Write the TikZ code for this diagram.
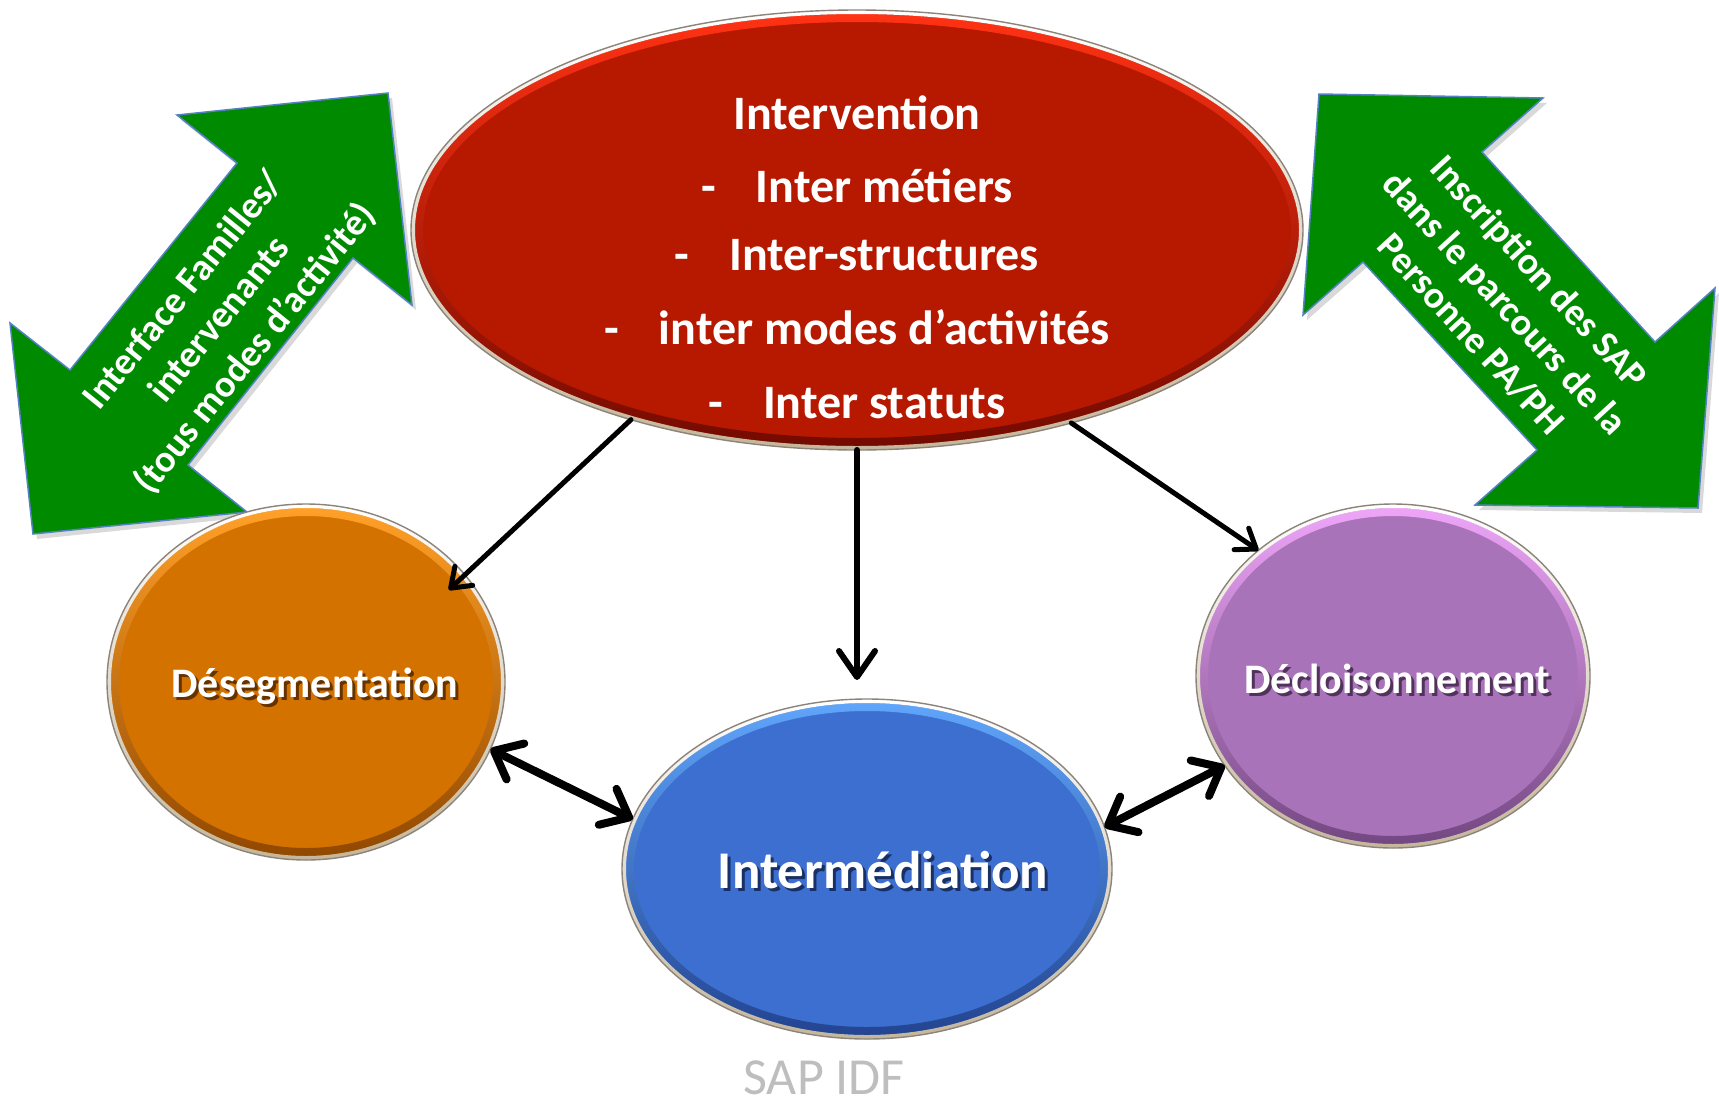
\documentclass[tikz,border=0pt]{standalone}
\usepackage{fontspec}
\setmainfont{Carlito}
\usetikzlibrary{shapes.geometric,arrows.meta}
\definecolor{arrowgreen}{RGB}{0,138,0}
\definecolor{arrowedge}{RGB}{84,130,196}
\definecolor{redmain}{RGB}{182,25,0}
\definecolor{redlight}{RGB}{255,50,20}
\definecolor{reddark}{RGB}{115,10,0}
\definecolor{orgmain}{RGB}{212,114,0}
\definecolor{orglight}{RGB}{255,160,40}
\definecolor{orgdark}{RGB}{145,72,0}
\definecolor{bluemain}{RGB}{60,111,207}
\definecolor{bluelight}{RGB}{95,165,250}
\definecolor{bluedark}{RGB}{35,68,145}
\definecolor{purmain}{RGB}{169,115,186}
\definecolor{purlight}{RGB}{238,165,248}
\definecolor{purdark}{RGB}{115,72,130}
\definecolor{ringbeige}{RGB}{196,182,155}
\definecolor{ringgray}{RGB}{140,132,122}
\definecolor{sapgray}{RGB}{190,190,190}
\newcommand\bubble[8]{%
  \pgfmathsetmacro\bubW{2*#4}\pgfmathsetmacro\bubH{2*#5}%
  \pgfmathsetmacro\rxb{#4-4}\pgfmathsetmacro\ryb{#5-4}%
  \pgfmathsetmacro\rxc{#4-12}\pgfmathsetmacro\ryc{#5-12}%
  \node[bubblebox, fill=#6, minimum width=\bubW pt, minimum height=\bubH pt] (#1) at (#2,#3) {};
  \shade[even odd rule, top color=#7, middle color=#6, bottom color=#8]
    (#2,#3) ellipse [x radius=\rxb, y radius=\ryb] (#2,#3) ellipse [x radius=\rxc, y radius=\ryc];
  \shade[even odd rule, top color=white, bottom color=ringbeige]
    (#2,#3) ellipse [x radius=#4, y radius=#5] (#2,#3) ellipse [x radius=\rxb, y radius=\ryb];
  \draw[ringgray, line width=1.4pt] (#2,#3) ellipse [x radius=#4, y radius=#5];
}
\newcommand\shadowed[2]{\makebox[0pt][l]{\kern3pt\raisebox{-3pt}{\textcolor{#1}{#2}}}#2}
\begin{document}
\begin{tikzpicture}[x=1pt,y=-1pt,
  bubblebox/.style={ellipse, inner sep=0pt, outer sep=0pt, draw=none},
  greenarrow/.style={fill=arrowgreen, draw=arrowedge, line width=1.5pt, line join=miter},
  greenshadow/.style={fill=black, opacity=0.15},
  greentext/.style={white, font=\fontsize{38}{46}\selectfont\bfseries, align=center, inner sep=0pt},
  redline/.style={anchor=base, white, font=\fontsize{48}{58}\selectfont\bfseries, inner sep=0pt},
  bubtext/.style={anchor=base, white, inner sep=0pt},
  conn/.style={line width=5pt, line cap=round, -{Straight Barb[round,length=18pt,width=26pt]}},
  connbig/.style={line width=6pt, line cap=round, -{Straight Barb[round,length=26pt,width=36pt]}},
  dconn/.style={line width=8pt, {Straight Barb[round,length=24pt,width=40pt]}-{Straight Barb[round,length=24pt,width=40pt]}}
]
\useasboundingbox (0,0) rectangle (1719,1101);
\fill[white] (0,0) rectangle (1719,1101);

% green double arrows
\fill[greenshadow, shift={(4,5)}] (388,93) -- (177,115) -- (237,163) -- (70,370) -- (10,323) -- (33,534) -- (247,512) -- (188,465) -- (353,258) -- (412,305) -- cycle;
\draw[greenarrow] (388,93) -- (177,115) -- (237,163) -- (70,370) -- (10,323) -- (33,534) -- (247,512) -- (188,465) -- (353,258) -- (412,305) -- cycle;
\fill[greenshadow, shift={(4,5)}] (1319,94) -- (1543,98) -- (1482,152) -- (1655,342) -- (1715,288) -- (1698,508) -- (1475,505) -- (1537,450) -- (1363,262) -- (1303,315) -- cycle;
\draw[greenarrow] (1319,94) -- (1543,98) -- (1482,152) -- (1655,342) -- (1715,288) -- (1698,508) -- (1475,505) -- (1537,450) -- (1363,262) -- (1303,315) -- cycle;
\node[greentext, rotate=51] (gl) at (220,320) {Interface Familles/\\intervenants\\(tous modes d’activité)};
\node[greentext, rotate=-47.5] (gr) at (1505,303) {Inscription des SAP\\dans le parcours de la\\Personne PA/PH};

% ellipses
\bubble{red}{857}{230}{446}{220}{redmain}{redlight}{reddark}
\bubble{orange}{306}{682}{199}{178}{orgmain}{orglight}{orgdark}
\bubble{blue}{867}{869}{245}{170}{bluemain}{bluelight}{bluedark}
\bubble{purple}{1393}{676}{197}{172}{purmain}{purlight}{purdark}

% texts
\node[redline] (r1) at (857,129) {Intervention};
\node[redline] (r2) at (857,202) {-\hspace{40pt}Inter métiers};
\node[redline] (r3) at (857,270) {-\hspace{40pt}Inter-structures};
\node[redline] (r4) at (857,344) {-\hspace{40pt}inter modes d’activités};
\node[redline] (r5) at (857,418) {-\hspace{40pt}Inter statuts};
\node[bubtext, font=\fontsize{42}{50}\selectfont\bfseries] (t1) at (315,697) {\shadowed{orgdark!70!black}{Désegmentation}};
\node[bubtext, font=\fontsize{42}{50}\selectfont\bfseries] (t2) at (1397,693) {\shadowed{purdark!70!black}{Décloisonnement}};
\node[bubtext, font=\fontsize{53}{60}\selectfont\bfseries] (t3) at (883,888) {\shadowed{bluedark!70!black}{Intermédiation}};
\node[anchor=base, sapgray, inner sep=0pt, font=\fontsize{52}{60}\selectfont] (sap) at (824,1094) {SAP IDF};

% connectors
\draw[conn, shorten >=-22pt] (red.220.5) -- (orange.34.5);
\draw[connbig, shorten >=19pt] (red.south) -- (red.south |- blue.north);
\draw[conn] (red.318.7) -- (purple.137);
\draw[dconn] (orange.340.3) -- (blue.168.2);
\draw[dconn] (blue.10.7) -- (purple.208.5);
\end{tikzpicture}
\end{document}
